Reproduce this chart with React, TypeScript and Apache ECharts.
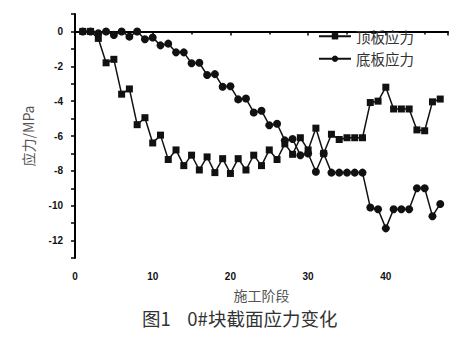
import React, { useEffect, useRef } from "react";
import * as echarts from "echarts";

const stages = [1,2,3,4,5,6,7,8,9,10,11,12,13,14,15,16,17,18,19,20,21,22,23,24,25,26,27,28,29,30,31,32,33,34,35,36,37,38,39,40,41,42,43,44,45,46,47];
const topStress = [0,0,-0.4,-1.8,-1.6,-3.6,-3.3,-5.35,-4.95,-6.4,-5.95,-7.35,-6.8,-7.7,-7.1,-7.95,-7.2,-8.1,-7.3,-8.15,-7.3,-7.95,-7.1,-7.7,-6.8,-7.35,-6.45,-7.05,-6.1,-6.8,-5.55,-7.0,-5.9,-6.2,-6.1,-6.1,-6.1,-4.08,-4.0,-3.2,-4.45,-4.45,-4.45,-5.65,-5.7,-4.04,-3.88];
const bottomStress = [0,0,-0.1,0,-0.2,0,-0.3,0,-0.45,-0.35,-0.8,-0.7,-1.2,-1.2,-1.83,-1.8,-2.5,-2.45,-3.17,-3.15,-3.9,-3.85,-4.65,-4.55,-5.38,-5.3,-6.25,-6.17,-7.1,-7.0,-8.05,-7.0,-8.1,-8.1,-8.1,-8.1,-8.1,-10.1,-10.2,-11.3,-10.2,-10.2,-10.2,-9.0,-9.0,-10.6,-9.9];
const seriesNames = ["顶板应力", "底板应力"];

export default function App() {
  const ref = useRef<HTMLDivElement>(null);
  useEffect(() => {
    document.body.style.margin = "0";
    if (!ref.current) return;
    const chart = echarts.init(ref.current, null, { renderer: "svg" });
    const tickLabel = { color: "#111", fontSize: 10, fontWeight: "bold" as const, fontFamily: "Liberation Sans" };
    chart.setOption({
      animation: false,
      backgroundColor: "#fff",
      grid: { left: 75, right: 20, top: 14, bottom: 89, containLabel: false, outerBoundsMode: "none" },
      legend: {
        right: 54,
        top: 29,
        orient: "vertical",
        itemWidth: 32,
        itemHeight: 8,
        itemGap: 8,
        padding: 0,
        textStyle: { fontSize: 14.5, color: "#333", fontFamily: "Noto Sans CJK SC" },
        data: seriesNames,
      },
      xAxis: {
        type: "value",
        min: 0,
        max: 48,
        interval: 10,
        name: "施工阶段",
        nameLocation: "middle",
        nameGap: 30,
        nameTextStyle: { fontSize: 14, color: "#555", fontFamily: "Noto Sans CJK SC" },
        axisLine: { lineStyle: { color: "#000", width: 2 } },
        axisTick: { inside: false, length: 4, lineStyle: { color: "#000", width: 1.5 } },
        minorTick: { show: true, splitNumber: 2, length: 3, lineStyle: { color: "#000", width: 1.5 } },
        axisLabel: {
          ...tickLabel,
          margin: 13,
          formatter: (v: number) => (v % 10 === 0 ? String(v) : ""),
        },
        splitLine: { show: false },
      },
      yAxis: {
        type: "value",
        min: -13,
        max: 1,
        interval: 1,
        name: "应力/MPa",
        nameLocation: "middle",
        nameGap: 40,
        nameTextStyle: { fontSize: 14, color: "#555", fontFamily: "Noto Sans CJK SC" },
        axisLine: { show: true, onZero: false, lineStyle: { color: "#000", width: 2 } },
        axisTick: { show: true, length: 4, lineStyle: { color: "#000", width: 1.5 } },
        axisLabel: {
          ...tickLabel,
          margin: 12,
          formatter: (v: number) => (v % 2 === 0 && v <= 0 ? String(v) : ""),
        },
        splitLine: { show: false },
      },
      series: [
        {
          name: seriesNames[0],
          type: "line",
          data: stages.map((s, i) => [s, topStress[i]]),
          symbol: "rect",
          symbolSize: 7,
          lineStyle: { color: "#111", width: 1.5 },
          itemStyle: { color: "#111" },
        },
        {
          name: seriesNames[1],
          type: "line",
          data: stages.map((s, i) => [s, bottomStress[i]]),
          symbol: "circle",
          symbolSize: 8,
          lineStyle: { color: "#111", width: 1.5 },
          itemStyle: { color: "#111" },
        },
      ],
      graphic: [
        {
          type: "text",
          left: 142,
          top: 309,
          style: {
            text: "图1    0#块截面应力变化",
            fontSize: 18.5,
            fill: "#333",
            fontFamily: "Noto Sans CJK SC",
          },
        },
      ],
    });
    return () => chart.dispose();
  }, []);
  return <div ref={ref} style={{ width: 468, height: 347 }} />;
}
